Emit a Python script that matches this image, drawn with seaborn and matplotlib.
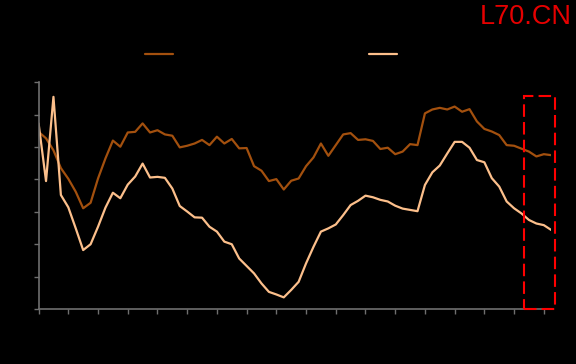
import numpy as np
import pandas as pd
import matplotlib
matplotlib.use("Agg")
import matplotlib.pyplot as plt
from matplotlib.patches import Rectangle
import seaborn as sns

# ---------------------------
# Data
# ---------------------------
title_text = "L70.CN"
series_names = ["指标一", "指标二"]
series_colors = ["#a3500e", "#fcbf8b"]

dark_values = [
    5.47, 5.27, 4.90, 4.35, 4.02, 3.62, 3.11, 3.28, 4.03, 4.65,
    5.20, 5.01, 5.45, 5.47, 5.73, 5.45, 5.52, 5.39, 5.35, 4.99,
    5.04, 5.11, 5.22, 5.06, 5.32, 5.11, 5.25, 4.96, 4.97, 4.41,
    4.27, 3.95, 4.01, 3.69, 3.96, 4.03, 4.41, 4.68, 5.11, 4.73,
    5.06, 5.39, 5.43, 5.22, 5.24, 5.19, 4.94, 4.98, 4.78, 4.86,
    5.09, 5.06, 6.04, 6.16, 6.21, 6.16, 6.25, 6.09, 6.17, 5.79,
    5.56, 5.48, 5.37, 5.06, 5.04, 4.95, 4.86, 4.71, 4.78, 4.75,
]
light_values = [
    5.73, 3.95, 6.55, 3.52, 3.14, 2.49, 1.82, 2.00, 2.54, 3.13,
    3.59, 3.42, 3.84, 4.09, 4.49, 4.06, 4.08, 4.05, 3.72, 3.18,
    3.01, 2.83, 2.82, 2.54, 2.39, 2.08, 2.00, 1.56, 1.33, 1.10,
    0.79, 0.53, 0.45, 0.36, 0.59, 0.84, 1.41, 1.92, 2.39, 2.49,
    2.61, 2.90, 3.21, 3.34, 3.50, 3.45, 3.37, 3.32, 3.19, 3.10,
    3.06, 3.02, 3.83, 4.22, 4.43, 4.80, 5.16, 5.16, 4.98, 4.60,
    4.53, 4.04, 3.78, 3.32, 3.11, 2.95, 2.75, 2.64, 2.59, 2.44,
]
x_ticks = list(range(0, 69, 4))
y_ticks = list(range(0, 8))
highlight_x = (65.4, 69.5)
highlight_y = (0.0, 6.57)

# ---------------------------
# Build long table for seaborn
# ---------------------------
n = len(dark_values)
df = pd.DataFrame({
    "idx": list(range(n)) * 2,
    "value": dark_values + light_values,
    "series": [series_names[0]] * n + [series_names[1]] * n,
})

# ---------------------------
# Plot
# ---------------------------
sns.set_style("dark")
plt.rcParams["font.family"] = ["Noto Sans CJK SC", "DejaVu Sans"]

fig = plt.figure(figsize=(5.76, 3.64), dpi=100, facecolor="black")
ax = fig.add_axes([0.067, 0.151, 0.890, 0.623])
ax.set_facecolor("black")

sns.lineplot(
    data=df, x="idx", y="value", hue="series",
    palette=dict(zip(series_names, series_colors)),
    linewidth=1.6, legend=False, ax=ax,
)

ax.set_xlim(0, n - 1)
ax.set_ylim(0, 7)
ax.set_xticks(x_ticks)
ax.set_yticks(y_ticks)
ax.set_xlabel("")
ax.set_ylabel("")
ax.grid(False)

spine_color = "#6f6f6f"
for side in ["top", "right"]:
    ax.spines[side].set_visible(False)
for side in ["left", "bottom"]:
    ax.spines[side].set_visible(True)
    ax.spines[side].set_color(spine_color)
    ax.spines[side].set_linewidth(1.2)
ax.tick_params(axis="both", direction="out", length=3.5, width=1,
               color=spine_color, labelcolor="black", labelsize=8,
               bottom=True, left=True)

# highlighted window
rect = Rectangle((highlight_x[0], highlight_y[0]),
                 highlight_x[1] - highlight_x[0], highlight_y[1] - highlight_y[0],
                 fill=False, edgecolor="#ff0000", linewidth=1.5,
                 linestyle=(0, (6, 2.5)), clip_on=False, zorder=5)
ax.add_patch(rect)

# legend (two entries, placed separately)
lines = ax.get_lines()
fig.legend(handles=[lines[0]], labels=[series_names[0]], loc="center left",
           bbox_to_anchor=(145 / 576, 1 - 55 / 364), frameon=False,
           borderpad=0, borderaxespad=0, handlelength=2.0, fontsize=10,
           labelcolor="black")
fig.legend(handles=[lines[1]], labels=[series_names[1]], loc="center left",
           bbox_to_anchor=(369 / 576, 1 - 55 / 364), frameon=False,
           borderpad=0, borderaxespad=0, handlelength=2.0, fontsize=10,
           labelcolor="black")

fig.text(0.993, 0.952, title_text, color="#e60000", fontsize=19.5,
         family=["Liberation Sans", "DejaVu Sans"], ha="right", va="center")

fig.savefig("out.png", dpi=100, facecolor="black")
